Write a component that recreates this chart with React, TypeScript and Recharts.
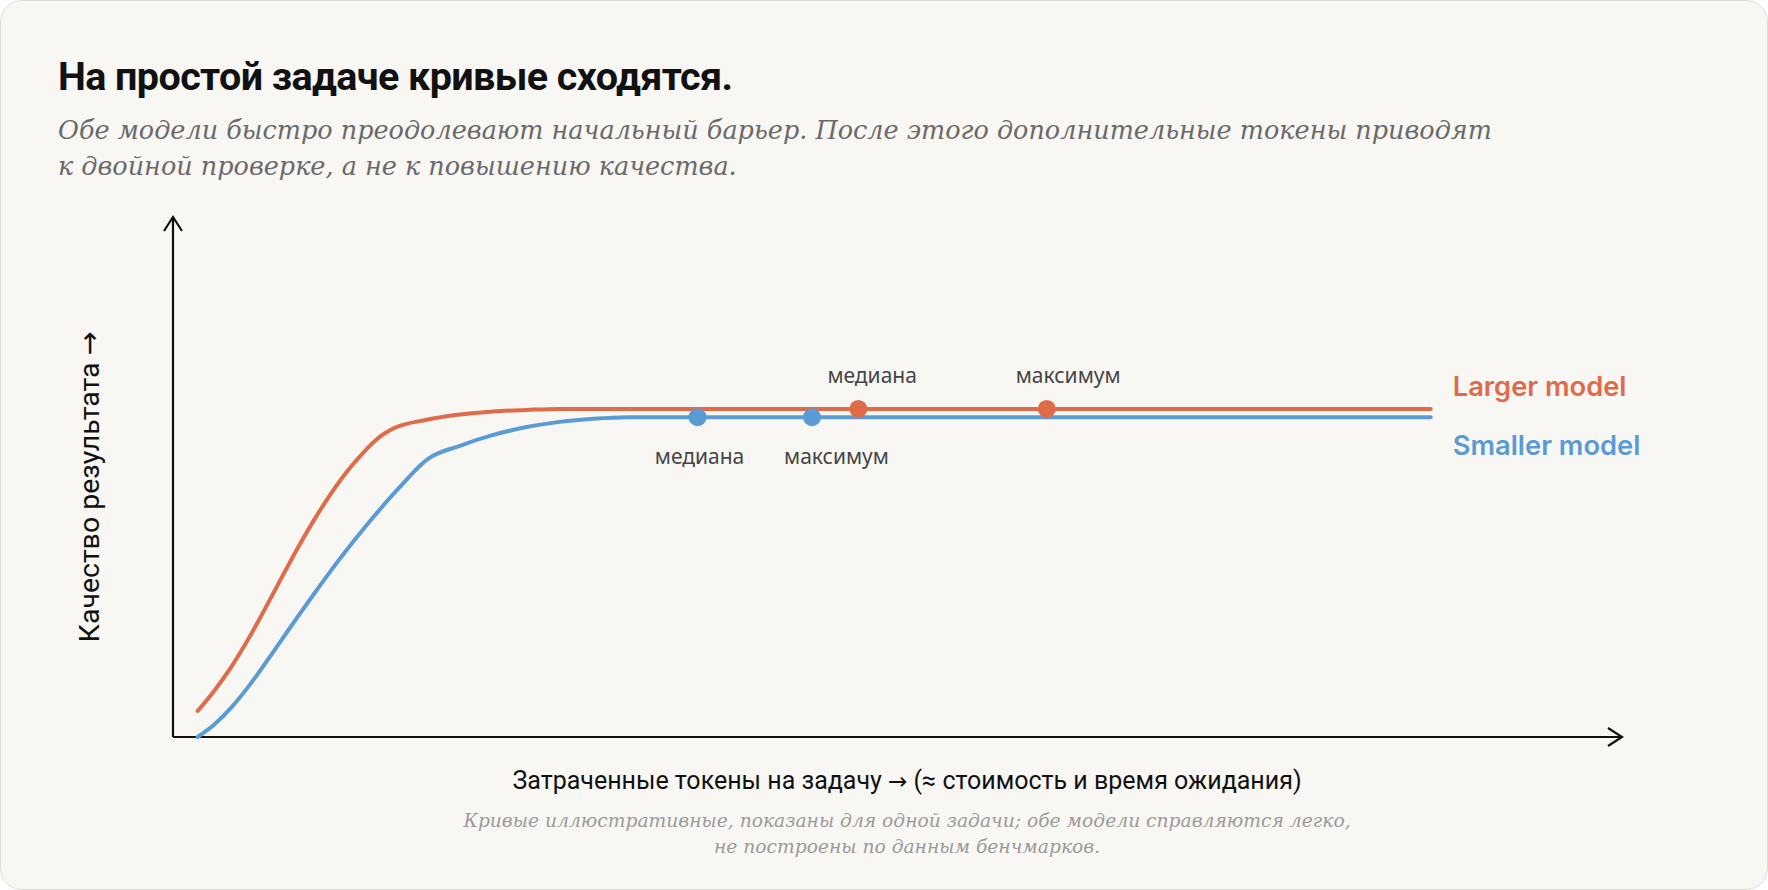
import React from "react";
import { LineChart, Line, XAxis, YAxis, ReferenceLine, ReferenceDot } from "recharts";

// Illustrative curves (x, y on a 0–100 scale)
const largerX = [1.7, 2.85, 4.0, 5.15, 6.3, 7.45, 8.6, 9.75, 10.9, 12.05, 13.2, 14.35, 15.1, 17.5, 19.8, 22.1, 24.4, 26.7, 86.8];
const largerY = [5.0, 8.9, 13.4, 18.6, 24.4, 30.4, 36.3, 41.8, 46.8, 51.2, 54.9, 57.9, 59.2, 61.0, 62.0, 62.6, 62.9, 63.1, 63.1];
const smallerX = [1.7, 2.85, 4.0, 5.15, 6.3, 7.45, 8.6, 9.75, 10.9, 12.05, 13.2, 14.35, 15.5, 17.6, 19.8, 22.1, 24.4, 26.7, 29.0, 31.4, 86.8];
const smallerY = [0, 2.4, 5.6, 9.5, 13.9, 18.5, 23.1, 27.6, 32.0, 36.2, 40.2, 44.0, 47.6, 53.5, 56.0, 58.1, 59.6, 60.6, 61.2, 61.5, 61.5];

const largerMarks = [
  { x: 47.3, y: 63.1, name: "медиана" },
  { x: 60.3, y: 63.1, name: "максимум" },
];
const smallerMarks = [
  { x: 36.2, y: 61.5, name: "медиана" },
  { x: 44.1, y: 61.5, name: "максимум" },
];

const seriesNames = ["Larger model", "Smaller model"];

const ORANGE = "#e06b48";
const BLUE = "#5b9bd5";

const largerData = largerX.map((x, i) => ({ x, y: largerY[i] }));
const smallerData = smallerX.map((x, i) => ({ x, y: smallerY[i] }));

const sans = "Roboto, 'Noto Sans', sans-serif";
const serif = "'DejaVu Serif', serif";
const arrowFont = "'DejaVu Sans', sans-serif";

function endLabel(text: string, color: string, dy: number, last: number) {
  return (props: any) => {
    if (props.index !== last) return null;
    return (
      <text
        x={props.x + 22}
        y={props.y + dy}
        fill={color}
        fontFamily="Inter, sans-serif"
        fontWeight={600}
        fontSize={27.3}
        dominantBaseline="central"
      >
        {text}
      </text>
    );
  };
}

function markShape(color: string, name: string, above: boolean, anchor: string, dx: number) {
  return (p: any) => (
    <g>
      <circle cx={p.cx} cy={p.cy} r={9} fill={color} />
      <text
        x={p.cx + dx}
        y={p.cy + (above ? -34 : 39)}
        textAnchor={anchor}
        dominantBaseline="central"
        fontFamily="'Noto Sans', sans-serif"
        fontSize={21}
        fill="#444"
      >
        {name}
      </text>
    </g>
  );
}

const xArrow = (p: any) => (
  <path
    d={`M${p.cx - 14},${p.cy - 9} L${p.cx},${p.cy} L${p.cx - 14},${p.cy + 9}`}
    stroke="#111"
    strokeWidth={2.2}
    fill="none"
  />
);
const yArrow = (p: any) => (
  <path
    d={`M${p.cx - 9},${p.cy + 14} L${p.cx},${p.cy} L${p.cx + 9},${p.cy + 14}`}
    stroke="#111"
    strokeWidth={2.2}
    fill="none"
  />
);

export default function App() {
  return (
    <div style={{ position: "fixed", left: 0, top: 0, width: 1768, height: 890, background: "#fff" }}>
      <div
        style={{
          position: "absolute",
          left: 0,
          top: 0,
          width: 1766,
          height: 888,
          border: "1px solid #dedcd7",
          borderRadius: 22,
          background: "#f8f7f4",
          overflow: "hidden",
        }}
      >
        <div
          style={{
            position: "absolute",
            left: 57,
            top: 52,
            fontFamily: sans,
            fontWeight: 700,
            fontSize: 39.5,
            letterSpacing: -0.6,
            color: "#111",
            whiteSpace: "nowrap",
          }}
        >
          На простой задаче кривые сходятся.
        </div>
        <div
          style={{
            position: "absolute",
            left: 57,
            top: 111,
            fontFamily: serif,
            fontStyle: "italic",
            fontSize: 25.5,
            lineHeight: "36px",
            color: "#6a6a6a",
            whiteSpace: "nowrap",
          }}
        >
          Обе модели быстро преодолевают начальный барьер. После этого дополнительные токены приводят
          <br />к двойной проверке, а не к повышению качества.
        </div>

        <div style={{ position: "absolute", left: 0, top: 0 }}>
          <LineChart width={1768} height={890} margin={{ left: 172, right: 147, top: 216, bottom: 154 }}>
            <XAxis type="number" dataKey="x" domain={[0, 100]} hide />
            <YAxis type="number" dataKey="y" domain={[0, 100]} hide />
            <ReferenceLine y={0} stroke="#111" strokeWidth={2.2} />
            <ReferenceLine x={0} stroke="#111" strokeWidth={2.2} />
            <ReferenceDot x={100} y={0} r={0} shape={xArrow} />
            <ReferenceDot x={0} y={100} r={0} shape={yArrow} />
            <Line
              data={largerData}
              dataKey="y"
              type="monotone"
              stroke={ORANGE}
              strokeWidth={4}
              strokeLinecap="round"
              strokeLinejoin="round"
              dot={false}
              isAnimationActive={false}
              label={endLabel(seriesNames[0], ORANGE, -22, largerData.length - 1)}
            />
            <Line
              data={smallerData}
              dataKey="y"
              type="monotone"
              stroke={BLUE}
              strokeWidth={4}
              strokeLinecap="round"
              strokeLinejoin="round"
              dot={false}
              isAnimationActive={false}
              label={endLabel(seriesNames[1], BLUE, 28, smallerData.length - 1)}
            />
            {smallerMarks.map((m, i) => (
              <ReferenceDot
                key={"s" + i}
                x={m.x}
                y={m.y}
                r={9}
                shape={markShape(BLUE, m.name, false, i === 0 ? "middle" : "start", i === 0 ? 2 : -28)}
              />
            ))}
            {largerMarks.map((m, i) => (
              <ReferenceDot key={"l" + i} x={m.x} y={m.y} r={9} shape={markShape(ORANGE, m.name, true, "start", -31)} />
            ))}
          </LineChart>
        </div>

        <div
          style={{
            position: "absolute",
            left: 88,
            top: 486,
            transform: "translate(-50%, -50%) rotate(-90deg)",
            fontFamily: sans,
            fontSize: 28.5,
            color: "#111",
            whiteSpace: "nowrap",
          }}
        >
          Качество результата <span style={{ fontFamily: arrowFont }}>→</span>
        </div>
        <div
          style={{
            position: "absolute",
            left: 906,
            top: 779,
            transform: "translate(-50%, -50%)",
            fontFamily: sans,
            fontSize: 25,
            color: "#111",
            whiteSpace: "nowrap",
          }}
        >
          Затраченные токены на задачу <span style={{ fontFamily: arrowFont, fontSize: 23 }}>→</span> (≈ стоимость и время
          ожидания)
        </div>
        <div
          style={{
            position: "absolute",
            left: 906,
            top: 833,
            transform: "translate(-50%, -50%)",
            fontFamily: serif,
            fontStyle: "italic",
            fontSize: 18.7,
            lineHeight: "26px",
            color: "#9a9a9a",
            textAlign: "center",
            whiteSpace: "nowrap",
          }}
        >
          Кривые иллюстративные, показаны для одной задачи; обе модели справляются легко,
          <br />
          не построены по данным бенчмарков.
        </div>
      </div>
    </div>
  );
}
